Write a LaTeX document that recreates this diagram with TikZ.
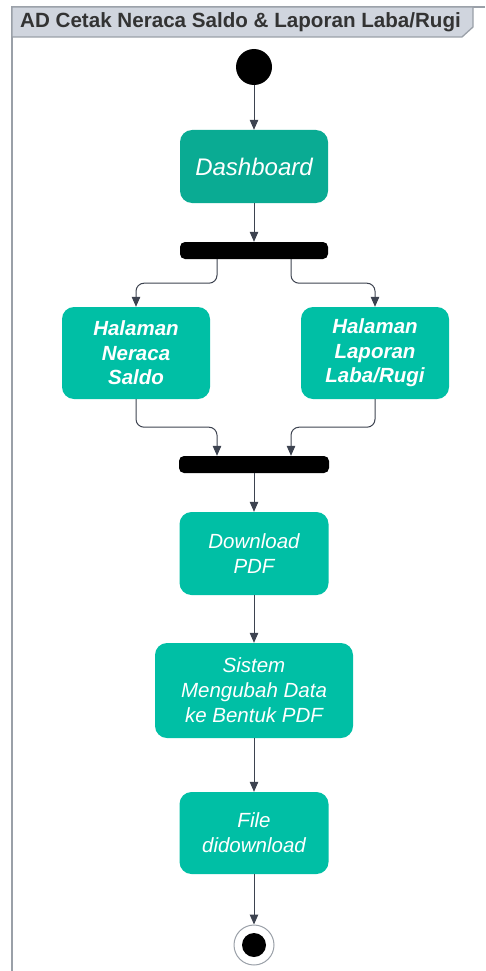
\documentclass[tikz,border=0pt]{standalone}
\usepackage{fontspec}
\setmainfont{Liberation Sans}
\usetikzlibrary{arrows.meta}
\definecolor{framecol}{HTML}{9AA0A8}
\definecolor{titlefill}{HTML}{D0D5DE}
\definecolor{titletext}{HTML}{333333}
\definecolor{tealdark}{HTML}{0AAB93}
\definecolor{teal}{HTML}{00BFA5}
\definecolor{linecol}{HTML}{3D4350}
\tikzset{
  action/.style={rounded corners=12pt, fill=teal, draw=none, text=white,
    minimum width=148pt, inner sep=0pt, align=center,
    font=\fontsize{20.5}{25}\selectfont\itshape},
  bar/.style={fill=black, draw=none, rounded corners=5pt, minimum width=148pt,
    minimum height=17pt, inner sep=0pt},
  arr/.style={draw=linecol, line width=1pt, -{Triangle[length=10pt,width=8.5pt]}}
}
\begin{document}
\begin{tikzpicture}[x=1pt,y=-1pt]
\useasboundingbox (0,0) rectangle (485,971);
% diagram frame and title tab
\draw[framecol, line width=1.3pt] (485,7) -- (12,7) -- (12,971);
\filldraw[fill=titlefill, draw=framecol, line width=1.3pt]
  (12,7) -- (473,7) -- (473,27) -- (462,37) -- (12,37) -- cycle;
\node[anchor=base west, inner sep=0pt, text=titletext,
  font=\fontsize{20.6}{24}\selectfont\bfseries] (title) at (20,27.5)
  {AD Cetak Neraca Saldo \& Laporan Laba/Rugi};

% start and end
\node[circle, fill=black, minimum size=36pt, inner sep=0pt] (start) at (254,67) {};
\node[circle, draw=framecol, fill=white, line width=1pt, minimum size=40pt, inner sep=0pt] (end) at (254,945) {};
\node[circle, fill=black, minimum size=24pt, inner sep=0pt] (endin) at (254,945) {};

% actions
\node[action, fill=tealdark, minimum height=73pt, font=\fontsize{24}{28}\selectfont\itshape] (dash) at (254,166.5) {Dashboard};
\node[bar] (fork) at (254,250.5) {};
\node[action, minimum height=92pt, font=\fontsize{20.5}{24.5}\selectfont\bfseries\itshape] (neraca) at (136,353) {Halaman\\Neraca\\Saldo};
\node[action, minimum height=92pt, font=\fontsize{20.5}{24.5}\selectfont\bfseries\itshape] (labarugi) at (375,353) {Halaman\\Laporan\\Laba/Rugi};
\node[bar, minimum width=150pt] (join) at (254,464.5) {};
\node[action, minimum width=149pt, minimum height=83pt] (download) at (254,553.5) {Download\\PDF};
\node[action, minimum width=198pt, minimum height=95pt] (sistem) at (254,690.5) {Sistem\\Mengubah Data\\ke Bentuk PDF};
\node[action, minimum width=149pt, minimum height=82pt] (file) at (254,833) {File\\didownload};

% flows
\draw[arr] (start) -- (dash);
\draw[arr] (dash) -- (fork);
\draw[arr, rounded corners=8pt] ([xshift=-37pt]fork.south) -- ++(0,24) -| (neraca.north);
\draw[arr, rounded corners=8pt] ([xshift=37pt]fork.south) -- ++(0,24) -| (labarugi.north);
\draw[arr, rounded corners=8pt] (neraca.south) -- ++(0,28) -| ([xshift=-37pt]join.north);
\draw[arr, rounded corners=8pt] (labarugi.south) -- ++(0,28) -| ([xshift=37pt]join.north);
\draw[arr] (join) -- (download);
\draw[arr] (download) -- (sistem);
\draw[arr] (sistem) -- (file);
\draw[arr] (file) -- (end);
\end{tikzpicture}
\end{document}
